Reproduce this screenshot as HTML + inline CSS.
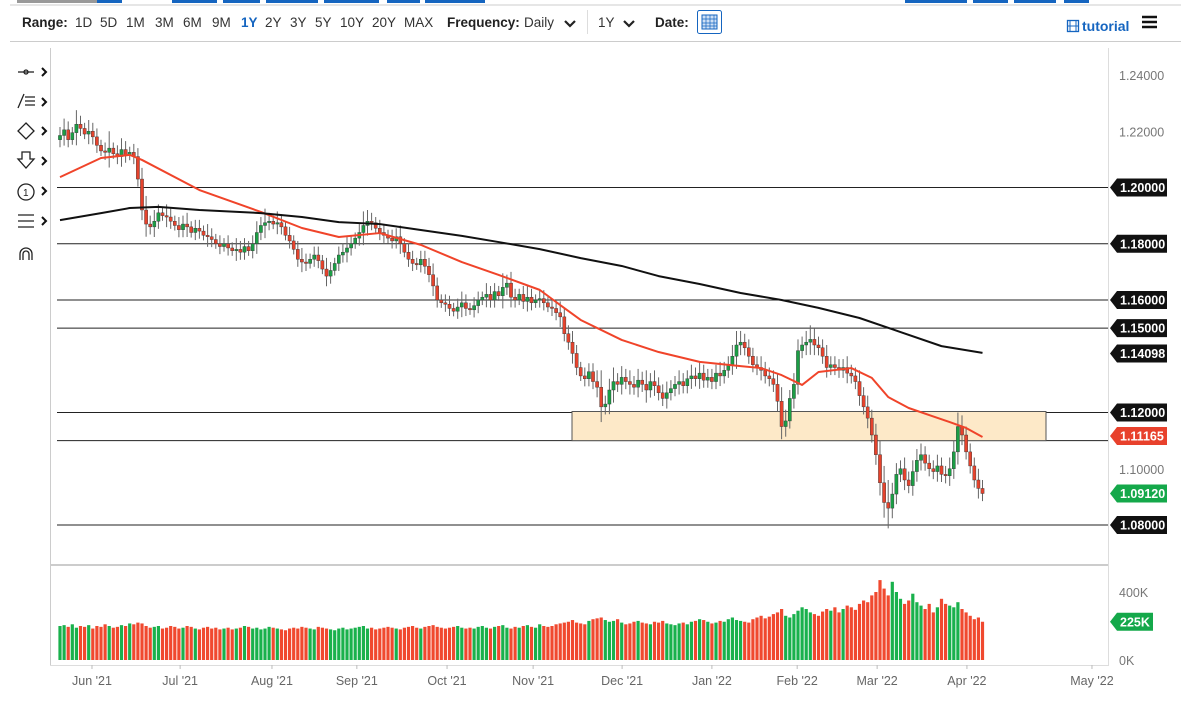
<!DOCTYPE html>
<html><head><meta charset="utf-8">
<style>
body{margin:0;background:#fff;font-family:"Liberation Sans",sans-serif;}
#wrap{position:relative;width:1181px;height:705px;overflow:hidden;}
</style></head>
<body>
<div id="wrap">
<svg id="svg" width="1181" height="705" xmlns="http://www.w3.org/2000/svg" style="position:absolute;left:0;top:0;font-family:'Liberation Sans',sans-serif;">
  <line x1="10" y1="5" x2="1181" y2="5" stroke="#ccc" stroke-width="1"/>
  <rect x="17" y="0" width="80" height="3" fill="#999"/>
  <rect x="97" y="0" width="25" height="3" fill="#1565c0"/>
  <rect x="172" y="0" width="45" height="3" fill="#1565c0"/>
  <rect x="223" y="0" width="37" height="3" fill="#1565c0"/>
  <rect x="266" y="0" width="52" height="3" fill="#1565c0"/>
  <rect x="324" y="0" width="55" height="3" fill="#1565c0"/>
  <rect x="387" y="0" width="33" height="3" fill="#1565c0"/>
  <rect x="425" y="0" width="60" height="3" fill="#1565c0"/>
  <rect x="905" y="0" width="62" height="3" fill="#1565c0"/>
  <rect x="973" y="0" width="35" height="3" fill="#1565c0"/>
  <rect x="1014" y="0" width="42" height="3" fill="#1565c0"/>
  <rect x="1064" y="0" width="25" height="3" fill="#1565c0"/>
  <line x1="10" y1="41.5" x2="1181" y2="41.5" stroke="#ccc"/>
  <line x1="587.5" y1="10" x2="587.5" y2="34" stroke="#ddd"/>
  <text x="22" y="27" font-size="13.5" font-weight="bold" fill="#222">Range:</text>
  <g font-size="13.5" fill="#333">
    <text x="75" y="27">1D</text>
    <text x="100" y="27">5D</text>
    <text x="126" y="27">1M</text>
    <text x="155" y="27">3M</text>
    <text x="183" y="27">6M</text>
    <text x="212" y="27">9M</text>
    <text x="241" y="27" fill="#1565c0" font-weight="bold">1Y</text>
    <text x="265" y="27">2Y</text>
    <text x="290" y="27">3Y</text>
    <text x="315" y="27">5Y</text>
    <text x="340" y="27">10Y</text>
    <text x="372" y="27">20Y</text>
    <text x="404" y="27">MAX</text>
  </g>
  <text x="447" y="27" font-size="13.5" font-weight="bold" fill="#222">Frequency:</text>
  <text x="524" y="27" font-size="13.5" fill="#333">Daily</text>
  <path d="M565 21 l5 5 l5 -5" stroke="#222" stroke-width="2.2" fill="none"/>
  <text x="598" y="27" font-size="13.5" fill="#333">1Y</text>
  <path d="M624 21 l5 5 l5 -5" stroke="#222" stroke-width="2.2" fill="none"/>
  <text x="655" y="27" font-size="13.5" font-weight="bold" fill="#222">Date:</text>
  <g>
    <rect x="697.5" y="10.5" width="24" height="23" rx="2" fill="#fff" stroke="#1565c0"/>
    <rect x="702" y="15" width="15" height="14" fill="#cfe0f5" stroke="#1565c0"/>
    <path d="M702 19h15M702 23h15M702 26h15M706 15v14M710 15v14M714 15v14" stroke="#1565c0" stroke-width="0.7"/>
  </g>
  <g>
    <rect x="1067.5" y="20.5" width="11" height="11" fill="none" stroke="#1565c0" stroke-width="1.3"/>
    <path d="M1070 21v10M1076 21v10M1068 26h10" stroke="#1565c0" stroke-width="1"/>
    <text x="1082" y="31" font-size="14" font-weight="bold" fill="#1565c0">tutorial</text>
  </g>
  <path d="M1142 17h15M1142 22h15M1142 27h15" stroke="#111" stroke-width="2.6"/>

  <g stroke="#222" fill="none" stroke-width="1.3">
    <g><path d="M18 72h16"/><circle cx="26" cy="72" r="2"/></g>
    <g><path d="M25 97h10M25 101h10M25 105h10M18 108 l6 -14"/></g>
    <g><path d="M26 123 l8 8 l-8 8 l-8 -8z"/></g>
    <g><path d="M22 152h8v7h4l-8 9l-8 -9h4z"/></g>
    <g><circle cx="26" cy="192" r="8"/></g>
    <g><path d="M18 215h16M18 221h16M18 227h16"/></g>
    <g><path d="M20 260v-6a6 6 0 0 1 12 0v6M23 260v-6a3 3 0 0 1 6 0v6"/></g>
  </g>
  <text x="23" y="196" font-size="10" fill="#222">1</text>
  <g>
    <path d="M42 68l4 4l-4 4" stroke="#111" stroke-width="2" fill="none"/>
    <path d="M42 98l4 4l-4 4" stroke="#111" stroke-width="2" fill="none"/>
    <path d="M42 127l4 4l-4 4" stroke="#111" stroke-width="2" fill="none"/>
    <path d="M42 157l4 4l-4 4" stroke="#111" stroke-width="2" fill="none"/>
    <path d="M42 187l4 4l-4 4" stroke="#111" stroke-width="2" fill="none"/>
    <path d="M42 217l4 4l-4 4" stroke="#111" stroke-width="2" fill="none"/>
  </g>

  <line x1="50.5" y1="48" x2="50.5" y2="666" stroke="#ccc"/>
  <line x1="1108.5" y1="48" x2="1108.5" y2="666" stroke="#ddd"/>
  <line x1="50" y1="565" x2="1108" y2="565" stroke="#ccc" stroke-width="2"/>
  <line x1="50" y1="665.5" x2="1108" y2="665.5" stroke="#ddd"/>

  <g id="levels"></g>
  <g id="zone"></g>
  <g id="vol"></g>
  <g id="candles"></g>
  <g id="mas"></g>
  <g id="axis"></g>
</svg>
</div>
<script>
const closes=[1.2185,1.2205,1.2170,1.2195,1.2225,1.2210,1.2190,1.2200,1.2180,1.2150,
1.2130,1.2125,1.2140,1.2120,1.2110,1.2135,1.2115,1.2125,1.2110,1.2030,
1.1920,1.1870,1.1860,1.1880,1.1910,1.1900,1.1895,1.1880,1.1865,1.1850,
1.1870,1.1860,1.1840,1.1855,1.1845,1.1830,1.1825,1.1815,1.1800,1.1790,
1.1800,1.1785,1.1775,1.1780,1.1770,1.1790,1.1775,1.1800,1.1840,1.1865,
1.1875,1.1880,1.1870,1.1875,1.1860,1.1830,1.1810,1.1780,1.1745,1.1735,
1.1730,1.1745,1.1760,1.1740,1.1710,1.1685,1.1705,1.1730,1.1760,1.1770,
1.1785,1.1800,1.1820,1.1840,1.1865,1.1880,1.1875,1.1855,1.1840,1.1830,
1.1820,1.1810,1.1825,1.1800,1.1770,1.1745,1.1730,1.1725,1.1745,1.1720,
1.1690,1.1650,1.1600,1.1590,1.1585,1.1570,1.1560,1.1575,1.1590,1.1570,
1.1565,1.1580,1.1600,1.1610,1.1620,1.1600,1.1630,1.1615,1.1645,1.1660,
1.1610,1.1600,1.1620,1.1595,1.1610,1.1590,1.1600,1.1605,1.1590,1.1575,
1.1570,1.1555,1.1540,1.1480,1.1450,1.1410,1.1360,1.1330,1.1320,1.1345,
1.1310,1.1290,1.1220,1.1230,1.1280,1.1310,1.1300,1.1325,1.1310,1.1300,
1.1290,1.1315,1.1300,1.1280,1.1310,1.1295,1.1270,1.1250,1.1270,1.1285,
1.1300,1.1310,1.1295,1.1320,1.1330,1.1320,1.1340,1.1315,1.1325,1.1310,
1.1340,1.1330,1.1350,1.1370,1.1400,1.1440,1.1450,1.1430,1.1400,1.1370,
1.1360,1.1350,1.1330,1.1320,1.1300,1.1240,1.1150,1.1170,1.1250,1.1300,
1.1420,1.1440,1.1450,1.1460,1.1440,1.1430,1.1400,1.1360,1.1370,1.1360,
1.1350,1.1360,1.1340,1.1330,1.1310,1.1260,1.1220,1.1180,1.1120,1.1050,
1.0950,1.0880,1.0860,1.0910,1.0980,1.1000,1.0960,1.0940,1.0990,1.1030,
1.1050,1.1020,1.1000,1.0990,1.1010,1.0980,1.0975,1.1000,1.1060,1.1150,
1.1120,1.1060,1.1010,1.0960,1.0930,1.0912];
const wicks=[3,4,3,2,5,3,2,4,3,3, 2,3,6,2,3,4,3,2,3,3, 4,5,3,4,3,2,4,3,2,3, 3,4,2,3,3,2,4,3,2,3, 2,3,2,4,3,3,2,3,4,3, 5,3,2,4,3,2,3,2,3,4, 3,2,3,3,2,4,3,2,3,3, 4,3,2,3,5,4,3,2,3,3, 2,3,3,4,2,3,3,2,3,3, 3,4,3,2,3,3,2,3,4,3, 2,3,3,2,4,3,3,2,5,3, 4,3,2,3,4,3,2,3,3,2, 3,3,4,3,3,4,3,2,3,3, 3,4,6,3,4,5,3,4,3,4, 3,4,3,5,3,4,3,3,4,3, 3,4,3,3,4,3,4,3,3,3, 3,4,3,3,4,5,4,3,3,3, 3,4,3,3,3,4,5,4,3,4, 4,3,4,5,4,3,3,4,3,3, 3,3,4,3,3,4,3,4,3,4, 5,6,8,4,4,3,4,3,4,4, 4,3,3,3,4,3,3,4,4,5, 4,3,3,3,4,3];
const volumes=[200,205,195,210,190,200,195,205,185,200,195,210,200,190,195,205,200,215,210,220,
215,200,190,195,200,185,190,200,195,185,190,200,195,185,180,190,195,185,190,180,
185,190,180,185,190,200,195,185,190,180,185,195,190,185,180,175,185,190,185,195,
190,185,180,195,190,185,180,175,185,190,180,185,190,195,200,185,190,180,185,190,
195,190,185,180,190,195,200,190,185,195,200,205,195,190,185,190,195,200,190,185,
190,185,195,200,190,185,195,200,205,190,185,195,190,200,205,195,190,210,200,195,
200,210,215,220,225,235,220,215,210,230,240,245,250,235,225,230,240,220,210,215,
225,230,220,215,210,225,220,230,215,210,
205,215,220,210,225,230,240,235,225,215,220,230,225,240,250,235,230,225,220,240,
250,260,245,255,270,280,300,260,250,270,
290,310,300,280,270,260,285,300,290,310,280,300,320,310,295,330,350,340,380,400,
470,420,380,460,400,360,330,350,390,340,
320,300,330,280,310,360,330,320,310,340,
300,280,260,240,250,225];
const ma50Idx=[0,10,17,20,34,49,59,68,78,88,98,107,117,122,127,137,146,156,166,171,176,181,185,193,198,202,207,212,217,221,225];
const ma50Val=[1.2037,1.2105,1.2116,1.2098,1.1991,1.1913,1.1856,1.1824,1.1838,1.1796,1.1735,1.1689,1.1636,1.1582,1.1529,1.1458,1.1415,1.1380,1.1365,1.1358,1.1333,1.1298,1.1344,1.1358,1.1323,1.1255,1.1216,1.1191,1.1166,1.1145,1.1113];
const ma200Idx=[0,10,17,24,34,49,59,68,78,88,98,107,117,127,137,146,156,166,176,185,195,205,215,225];
const ma200Val=[1.1884,1.1909,1.1927,1.1931,1.1920,1.1909,1.1895,1.1877,1.1870,1.1849,1.1828,1.1806,1.1781,1.1749,1.1721,1.1685,1.1657,1.1625,1.1600,1.1572,1.1536,1.1486,1.1436,1.1412];
const levels=[1.20,1.18,1.16,1.15,1.12,1.11,1.08];
const plainTicks=[1.24,1.22,1.10];
const tagPrices=[1.20,1.18,1.16,1.15,1.14098,1.12,1.11165,1.09120,1.08];
const tagColors=['#111','#111','#111','#111','#111','#111','#e8412c','#14a84a','#111'];
const monthLabels=["Jun '21","Jul '21","Aug '21","Sep '21","Oct '21","Nov '21","Dec '21","Jan '22","Feb '22","Mar '22","Apr '22","May '22"];
const monthIdx=[7.8,29.3,51.7,72.4,94.4,115.4,137.1,159,179.8,199.3,221.2,251.7];
const volTicks=[400,0];

const NS='http://www.w3.org/2000/svg';
const X0=60,DX=4.1;
const x=i=>X0+i*DX;
const y=p=>525-(p-1.08)*2812.5;
const vy=v=>660-v*0.17;
function mk(tag,attrs,parent){const e=document.createElementNS(NS,tag);for(const k in attrs)e.setAttribute(k,attrs[k]);parent.appendChild(e);return e;}
const gL=document.getElementById('levels'),gZ=document.getElementById('zone'),gV=document.getElementById('vol'),gC=document.getElementById('candles'),gM=document.getElementById('mas'),gA=document.getElementById('axis');

levels.forEach(p=>{const l=mk('line',{x1:57,x2:1108,y1:y(p),y2:y(p),stroke:'#222','stroke-width':1},gL);

});

const z=mk('rect',{x:572,y:y(1.12)-1,width:474,height:y(1.11)-y(1.12)+1,fill:'#fde9c8',stroke:'#555','stroke-width':1},gZ);



for(let i=0;i<closes.length;i++){
  const c=closes[i],o=i>0?closes[i-1]:1.2170;
  const up=c>=o;
  const hi=Math.max(o,c)+wicks[i]*0.001,lo=Math.min(o,c)-wicks[i]*0.0009;
  const col=up?'#1b9e45':'#e5432d';
  const w=mk('line',{x1:x(i),x2:x(i),y1:y(hi),y2:y(lo),stroke:'#666','stroke-width':1},gC);
  
  
  const top=y(Math.max(o,c)),h=Math.max(1,Math.abs(y(o)-y(c)));
  const b=mk('rect',{x:x(i)-1.6,y:top,width:3.2,height:h,fill:col,stroke:'#333','stroke-width':0.4},gC);
  
  
  const v=mk('rect',{x:x(i)-1.6,y:vy(volumes[i]),width:3.2,height:660-vy(volumes[i]),fill:up?'#19b14c':'#f0492f'},gV);
  
  
}
function ln(idx,val,color,name){
  let d='M'+x(idx[0])+' '+y(val[0]);
  for(let k=1;k<idx.length;k++){d+=' L'+x(idx[k])+' '+y(val[k]);}
  const p=mk('path',{d:d,fill:'none',stroke:color,'stroke-width':2,'stroke-linejoin':'round'},gM);
  
  
}
ln(ma50Idx,ma50Val,'#f0442a','sma-50-line');
ln(ma200Idx,ma200Val,'#111','sma-200-line');

plainTicks.forEach(p=>{const t=mk('text',{x:1119,y:y(p)+5,'font-size':12.5,fill:'#777'},gA);t.textContent=p.toFixed(5);

});
tagPrices.forEach((p,k)=>{const yy=y(p);
  const g=mk('g',{},gA);
  
  
  mk('path',{d:`M1110 ${yy} L1117 ${yy-9} H1167 V${yy+9} H1117 Z`,fill:tagColors[k]},g);
  const t=mk('text',{x:1120,y:yy+4.5,'font-size':12.5,'font-weight':'bold',fill:'#fff'},g);t.textContent=p.toFixed(5);
});
volTicks.forEach(v=>{const t=mk('text',{x:1119,y:vy(v)+5,'font-size':12.5,fill:'#777'},gA);t.textContent=v+'K';

});
{const g=mk('g',{},gA);


const yy=vy(volumes[volumes.length-1]);
mk('path',{d:`M1110 ${yy} L1117 ${yy-9} H1153 V${yy+9} H1117 Z`,fill:'#14a84a'},g);
const t=mk('text',{x:1120,y:yy+4.5,'font-size':12.5,'font-weight':'bold',fill:'#fff'},g);t.textContent=volumes[volumes.length-1]+'K';}
monthLabels.forEach((m,k)=>{const xx=x(monthIdx[k]);
  const tk=mk('line',{x1:xx,x2:xx,y1:665,y2:669,stroke:'#bbb'},gA);
  
  
  const t=mk('text',{x:xx,y:685,'font-size':12.5,fill:'#666','text-anchor':'middle'},gA);t.textContent=m;
  
  });
</script>
</body></html>
